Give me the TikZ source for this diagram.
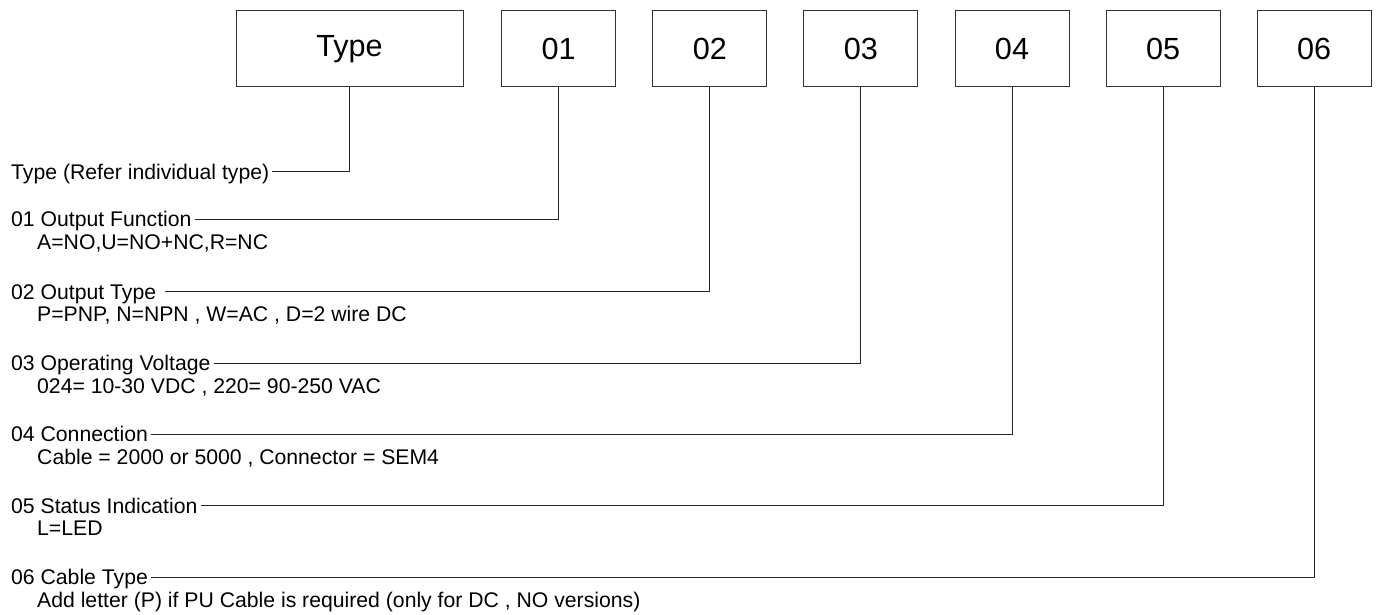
\documentclass[tikz,border=0pt]{standalone}
\usepackage{fontspec}
\setmainfont{Liberation Sans}
\tikzset{
  codebox/.style={draw=black!80, line width=1bp, minimum height=76bp, inner sep=0pt,
    font=\fontsize{30.6bp}{36bp}\selectfont},
  desc/.style={font=\fontsize{21.2bp}{25bp}\selectfont, inner xsep=3bp, inner ysep=0pt,
    text height=15bp, text depth=0pt},
  lead/.style={draw=black!85, line width=1bp},
}
\begin{document}
\begin{tikzpicture}[x=1bp,y=-1bp]
\useasboundingbox (0,0) rectangle (1378,615);
% code boxes on top
\node[codebox, minimum width=227bp] (bT) at (349.5,48.7) {Type};
\foreach \i in {1,...,6} % edit here for the boxes 01..06
\node[codebox, minimum width=114bp] (b\i) at ({558.7+151.1*(\i-1)},48.7) {0\i};
% description of the type
\node[desc, anchor=west] (lT) at (8,172) {Type (Refer individual type)};
\draw[lead] (lT.east) -| (bT.south);
\foreach \i/\y/\main/\sub in {1/219/{01 Output Function}/{A=NO,U=NO+NC,R=NC},
  2/291.5/{02 Output Type\ \null}/{P=PNP, N=NPN , W=AC , D=2 wire DC},
  3/363/{03 Operating Voltage}/{024= 10-30 VDC , 220= 90-250 VAC},
  4/434/{04 Connection}/{Cable = 2000 or 5000 , Connector = SEM4},
  5/505.5/{05 Status Indication}/{L=LED},
  6/577/{06 Cable Type}/{Add letter (P) if PU Cable is required (only for DC , NO versions)}}
{
\node[desc, anchor=west] (l\i) at (8,\y) {\main};
\node[desc, anchor=base west] (s\i) at ([xshift=26bp,yshift=-22.5bp]l\i.base west) {\sub};
\draw[lead] (l\i.east) -| (b\i.south);
}
\end{tikzpicture}
\end{document}
